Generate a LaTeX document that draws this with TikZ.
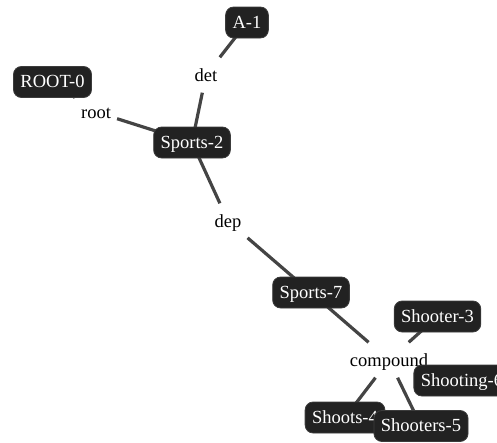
\documentclass[tikz,border=0pt]{standalone}
\usepackage{fontspec}
\setmainfont{Liberation Serif}
\usetikzlibrary{backgrounds}
\definecolor{boxfill}{RGB}{34,34,34}
\definecolor{boxline}{RGB}{60,60,60}
\definecolor{edgecol}{RGB}{68,68,68}
\tikzset{
  word/.style={draw=boxline, line width=0.8pt, fill=boxfill, text=white, rounded corners=8pt,
    font=\fontsize{18.5}{20}\selectfont, inner xsep=7pt, minimum height=31pt,
    text height=14pt, text depth=2.5pt, inner ysep=0pt},
  rel/.style={font=\fontsize{18.5}{20}\selectfont, text=black, inner xsep=6pt, minimum height=35pt,
    text height=15pt, text depth=2.5pt, inner ysep=0pt},
  edge/.style={draw=edgecol, line width=3.2pt}
}
\begin{document}
\begin{tikzpicture}[x=1pt,y=-1pt]
\clip (0,0) rectangle (497,442);
% relation labels
\node[rel] (lroot) at (96,112) {root};
\node[rel] (ldet) at (206,75) {det};
\node[rel] (ldep) at (228,221) {dep};
\node[rel] (lcomp) at (389,360) {compound};
% word nodes
\node[word] (a1) at (247,22.5) {A-1};
\node[word] (root0) at (52.5,82) {ROOT-0};
\node[word] (sp2) at (192,142.5) {Sports-2};
\node[word] (sp7) at (311,292.5) {Sports-7};
\node[word] (sh3) at (437.5,316.5) {Shooter-3};
\node[word] (sh6) at (462,380.5) {Shooting-6};
\node[word] (sh4) at (345,417.5) {Shoots-4};
\node[word] (sh5) at (421,426) {Shooters-5};
% edges
\begin{scope}[on background layer]
\draw[edge] (root0.center) -- (lroot) -- (sp2.center);
\draw[edge] (a1.center) -- (ldet) -- (sp2.center);
\draw[edge] (sp2.center) -- (ldep) -- (sp7.center);
\draw[edge] (sp7.center) -- (lcomp);
\draw[edge] (sh3.center) -- (lcomp);
\draw[edge] (sh6.center) -- (lcomp);
\draw[edge] (sh4.center) -- (lcomp);
\draw[edge] (sh5.center) -- (lcomp);
\end{scope}
\end{tikzpicture}
\end{document}
